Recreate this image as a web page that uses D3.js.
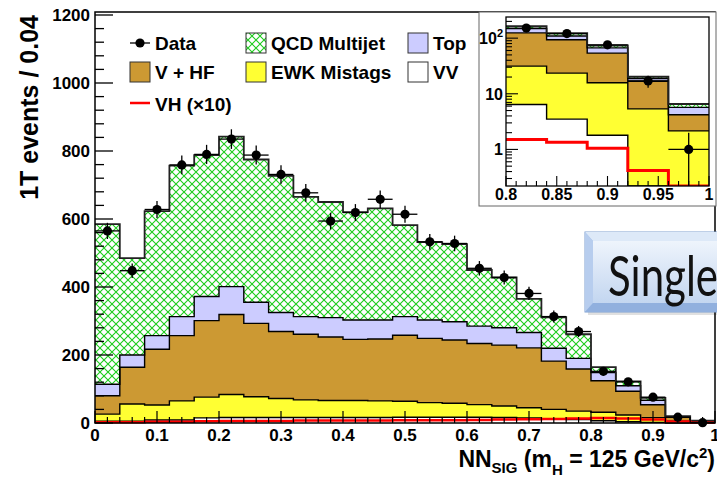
<!DOCTYPE html>
<html>
<head>
<meta charset="utf-8">
<script src="https://d3js.org/d3.v7.min.js"></script>
<style>
  body { margin: 0; background: #fff; }
  svg { display: block; font-family: "Liberation Sans", Arial, sans-serif; }
</style>
</head>
<body>
<script>
// histogram bins (lower edges), width 0.04
var binLo = [0, 0.04, 0.08, 0.12, 0.16, 0.2, 0.24, 0.28, 0.32, 0.36, 0.4, 0.44, 0.48,
             0.52, 0.56, 0.6, 0.64, 0.68, 0.72, 0.76, 0.8, 0.84, 0.88, 0.92, 0.96]
var binW = 0.04

// background components (events per bin), stacked bottom -> top
var vv   = [5, 5, 9, 9, 15, 16, 16, 16, 16, 16, 16, 16, 17, 17, 17, 17, 16, 15, 13, 10, 6.4, 3.5, 1.8, 0.15, 0.05]
var ewk  = [21, 51, 44, 56, 61, 68, 61, 56, 52, 50, 50, 49, 47, 43, 41, 37, 34, 30, 27, 25, 25, 20, 14, 5.2, 2.1]
var vhf  = [54, 108, 164, 192, 225, 235, 216, 197, 193, 187, 180, 182, 194, 189, 186, 180, 179, 176, 142, 124, 93, 70, 38, 11.5, 2.05]
var topq = [34, 36, 40, 56, 71, 82, 62, 56, 52, 57, 57, 56, 55, 54, 54, 51, 51, 45, 38, 31, 24, 16, 13, 2, 1.5]
var qcd  = [471, 285, 366, 444, 416, 441, 420, 402, 352, 340, 317, 328, 269, 229, 228, 165, 148, 99, 91, 71, 16, 13, 7, 1.4, 0.85]
var vh10 = [2, 2, 4, 4, 5, 6, 6, 6, 7, 7, 7, 7, 8, 8, 8, 9, 10, 11, 12, 13, 15, 13.5, 10.5, 4.2, 1]
var data = [565, 448, 628, 759, 790, 835, 788, 731, 677, 594, 619, 658, 614, 533, 528, 455, 428, 381, 313, 269, 152, 121, 76, 17, 1]

// tick labels
var xTicks = [0, 0.1, 0.2, 0.3, 0.4, 0.5, 0.6, 0.7, 0.8, 0.9, 1]
var xTickText = ['0', '0.1', '0.2', '0.3', '0.4', '0.5', '0.6', '0.7', '0.8', '0.9', '1']
var yTicks = [0, 200, 400, 600, 800, 1000, 1200]
var insetXTicks = [0.8, 0.85, 0.9, 0.95, 1]
var insetXText = ['0.8', '0.85', '0.9', '0.95', '1']
var insetYTicks = [1, 10, 100]

var w = 717, h = 480
var svg = d3.select('body').append('svg').attr('width', w).attr('height', h)

var defs = svg.append('defs')
var pat = defs.append('pattern').attr('id', 'hatch')
    .attr('patternUnits', 'userSpaceOnUse').attr('width', 8).attr('height', 8)
pat.append('rect').attr('width', 8).attr('height', 8).attr('fill', 'white')
pat.append('path').attr('d', 'M-1,-1 L9,9 M9,-1 L-1,9')
    .attr('stroke', '#1ccc1c').attr('stroke-width', 1.1)

var layers = [
    { key: 'VV', vals: vv, fill: 'white' },
    { key: 'EWK Mistags', vals: ewk, fill: '#ffff33' },
    { key: 'V + HF', vals: vhf, fill: '#cc9933' },
    { key: 'Top', vals: topq, fill: '#ccccff' },
    { key: 'QCD Multijet', vals: qcd, fill: 'url(#hatch)' }
]
var rows = binLo.map(function (b, i) {
    var r = { lo: b, idx: i }
    layers.forEach(function (l) { r[l.key] = l.vals[i] })
    return r
})
var stacked = d3.stack().keys(layers.map(l => l.key))(rows)

// ---------------- main plot ----------------
var x = d3.scaleLinear().domain([0, 1]).range([95, 715])
var y = d3.scaleLinear().domain([0, 1200]).range([423, 15])

function drawStack(g, xs, ys, subset, clampLo, clampHi) {
    function cy(v) { return ys(Math.min(Math.max(v, clampLo), clampHi)) }
    stacked.forEach(function (s, li) {
        var pts = s.filter((d, i) => subset(i))
        g.selectAll(null).data(pts).enter().append('rect')
            .attr('x', d => xs(d.data.lo))
            .attr('width', d => xs(d.data.lo + binW) - xs(d.data.lo))
            .attr('y', d => cy(d[1]))
            .attr('height', d => Math.max(0, cy(d[0]) - cy(d[1])))
            .attr('fill', layers[li].fill)
            .attr('shape-rendering', 'crispEdges')
    })
    stacked.forEach(function (s, li) {
        var pts = s.filter((d, i) => subset(i))
        var line = []
        pts.forEach(function (d) {
            line.push([xs(d.data.lo), cy(d[1])])
            line.push([xs(d.data.lo + binW), cy(d[1])])
        })
        g.append('path').attr('d', d3.line()(line))
            .attr('fill', 'none')
            .attr('stroke', li == 4 ? '#222' : 'black')
            .attr('stroke-width', li == 4 ? 1.8 : 1.4)
    })
}

var mainG = svg.append('g')
drawStack(mainG, x, y, i => true, 0, 1209)

// VH x10 line
var vhLine = []
binLo.forEach(function (b, i) {
    vhLine.push([x(b), y(vh10[i])])
    vhLine.push([x(b + binW), y(vh10[i])])
})
mainG.append('path').attr('d', d3.line()(vhLine))
    .attr('fill', 'none').attr('stroke', '#ff0000').attr('stroke-width', 2.5)

// data points
function drawData(g, xs, ys, idx, lo, hi) {
    function cy(v) { return ys(Math.min(Math.max(v, lo), hi)) }
    idx.forEach(function (i) {
        var c = binLo[i] + binW / 2, n = data[i], e = Math.sqrt(n)
        g.append('line').attr('x1', xs(binLo[i])).attr('x2', xs(binLo[i] + binW))
            .attr('y1', cy(n)).attr('y2', cy(n)).attr('stroke', 'black').attr('stroke-width', 1.3)
        g.append('line').attr('x1', xs(c)).attr('x2', xs(c))
            .attr('y1', cy(n - e)).attr('y2', cy(n + e)).attr('stroke', 'black').attr('stroke-width', 1.3)
        g.append('circle').attr('cx', xs(c)).attr('cy', cy(n)).attr('r', 4.6).attr('fill', 'black')
    })
}
drawData(mainG, x, y, d3.range(binLo.length), 0, 1209)

// frame + ticks
var ax = svg.append('g')
ax.append('rect').attr('x', 95).attr('y', 12).attr('width', 620).attr('height', 411)
    .attr('fill', 'none').attr('stroke', 'black').attr('stroke-width', 1.5)
for (var v = 0; v <= 1200; v += 40) {
    var major = v % 200 == 0
    ax.append('line').attr('x1', 95).attr('x2', 95 + (major ? 18 : 9))
        .attr('y1', y(v)).attr('y2', y(v)).attr('stroke', 'black').attr('stroke-width', 1.3)
}
for (var k = 0; k <= 50; k++) {
    var xv = k * 0.02
    var maj = k % 5 == 0
    ax.append('line').attr('x1', x(xv)).attr('x2', x(xv))
        .attr('y1', 423).attr('y2', 423 - (maj ? 12 : 6)).attr('stroke', 'black').attr('stroke-width', 1.2)
}
ax.selectAll('.ylab').data(yTicks).enter().append('text')
    .attr('x', 90).attr('y', d => y(d)).attr('dy', '0.36em')
    .attr('text-anchor', 'end').attr('font-size', 17).attr('font-weight', 'bold')
    .text(d => d)
ax.selectAll('.xlab').data(xTicks).enter().append('text')
    .attr('x', d => x(d)).attr('y', 441)
    .attr('text-anchor', 'middle').attr('font-size', 17).attr('font-weight', 'bold')
    .text((d, i) => xTickText[i])

// axis titles
svg.append('text')
    .attr('transform', 'translate(38,15) rotate(-90)')
    .attr('text-anchor', 'end').attr('font-size', 25).attr('font-weight', 'bold')
    .text('1T events / 0.04')

var xt = svg.append('text').attr('x', 715).attr('y', 467)
    .attr('text-anchor', 'end').attr('font-size', 23).attr('font-weight', 'bold')
xt.append('tspan').text('NN')
xt.append('tspan').attr('font-size', 15).attr('dy', 6).text('SIG')
xt.append('tspan').attr('dy', -6).text(' (m')
xt.append('tspan').attr('font-size', 15).attr('dy', 8).text('H')
xt.append('tspan').attr('dy', -8).text(' = 125 GeV/c')
xt.append('tspan').attr('font-size', 15).attr('dy', -9).text('2')
xt.append('tspan').attr('dy', 9).text(')')

// ---------------- legend ----------------
var lg = svg.append('g').attr('font-size', 19).attr('font-weight', 'bold')
function legBox(x0, yc, fill, label) {
    lg.append('rect').attr('x', x0).attr('y', yc - 10).attr('width', 20).attr('height', 20)
        .attr('fill', fill).attr('stroke', '#333').attr('stroke-width', 1)
    lg.append('text').attr('x', x0 + 25).attr('y', yc + 7).text(label)
}
// Data entry
lg.append('line').attr('x1', 130).attr('x2', 150).attr('y1', 43).attr('y2', 43)
    .attr('stroke', 'black').attr('stroke-width', 1.3)
lg.append('circle').attr('cx', 140).attr('cy', 43).attr('r', 4.6).attr('fill', 'black')
lg.append('text').attr('x', 155).attr('y', 50).text('Data')
legBox(246, 43, 'url(#hatch)', 'QCD Multijet')
legBox(408, 43, '#ccccff', 'Top')
legBox(130, 72, '#cc9933', 'V + HF')
legBox(246, 72, '#ffff33', 'EWK Mistags')
legBox(408, 72, 'white', 'VV')
lg.append('line').attr('x1', 130).attr('x2', 150).attr('y1', 103).attr('y2', 103)
    .attr('stroke', '#ff0000').attr('stroke-width', 2.5)
lg.append('text').attr('x', 155).attr('y', 111).text('VH (\u00d710)')

// ---------------- "Single" box ----------------
var grad = defs.append('linearGradient').attr('id', 'face').attr('x1', 0).attr('y1', 0).attr('x2', 0).attr('y2', 1)
grad.append('stop').attr('offset', '0%').attr('stop-color', '#eef4fc')
grad.append('stop').attr('offset', '100%').attr('stop-color', '#c3d6f0')
var sb = svg.append('g')
sb.append('rect').attr('x', 588).attr('y', 235).attr('width', 140).attr('height', 80)
    .attr('fill', '#000').attr('opacity', 0.12)
sb.append('rect').attr('x', 585).attr('y', 232).attr('width', 140).attr('height', 80)
    .attr('fill', '#a8c2e8').attr('stroke', '#7f9fd0').attr('stroke-width', 1)
sb.append('path').attr('d', 'M585,232 L725,232 L725,241 L593,241 Z').attr('fill', '#dde9f8')
sb.append('path').attr('d', 'M585,232 L593,241 L593,303 L585,312 Z').attr('fill', '#b7cdee')
sb.append('path').attr('d', 'M585,312 L593,303 L725,303 L725,312 Z').attr('fill', '#91b0de')
sb.append('rect').attr('x', 593).attr('y', 241).attr('width', 132).attr('height', 62)
    .attr('fill', 'url(#face)')
sb.append('text').attr('x', 608).attr('y', 296)
    .attr('font-family', 'Lato, "Open Sans", sans-serif').attr('font-size', 56)
    .attr('textLength', 110).attr('lengthAdjust', 'spacingAndGlyphs')
    .attr('fill', '#111').text('Single')

// ---------------- inset (log scale) ----------------
var ins = svg.append('g')
ins.append('rect').attr('x', 479).attr('y', 12).attr('width', 237).attr('height', 194)
    .attr('fill', 'white').attr('stroke', '#666').attr('stroke-width', 1)
var xi = d3.scaleLinear().domain([0.8, 1]).range([506, 709])
var yi = d3.scaleLog().domain([0.22, 240]).range([186, 17])
defs.append('clipPath').attr('id', 'insclip').append('rect')
    .attr('x', 506).attr('y', 17).attr('width', 203).attr('height', 169)
var insG = ins.append('g').attr('clip-path', 'url(#insclip)')
drawStack(insG, xi, yi, i => i >= 20, 0.22, 240)
var vhIn = []
binLo.forEach(function (b, i) {
    if (i < 20) return
    var v = Math.max(vh10[i] / 10, 0.22)
    vhIn.push([xi(b), yi(v)])
    vhIn.push([xi(b + binW), yi(v)])
})
insG.append('path').attr('d', d3.line()(vhIn))
    .attr('fill', 'none').attr('stroke', '#ff0000').attr('stroke-width', 3)
drawData(insG, xi, yi, [20, 21, 22, 23, 24], 0.22, 240)

ins.append('rect').attr('x', 506).attr('y', 17).attr('width', 203).attr('height', 169)
    .attr('fill', 'none').attr('stroke', 'black').attr('stroke-width', 1.3)
for (var k2 = 0; k2 <= 20; k2++) {
    var xv2 = 0.8 + k2 * 0.01
    var mj = k2 % 5 == 0
    ins.append('line').attr('x1', xi(xv2)).attr('x2', xi(xv2))
        .attr('y1', 186).attr('y2', 186 - (mj ? 10 : 5)).attr('stroke', 'black').attr('stroke-width', 1.1)
}
;[1, 10, 100].forEach(function (dec) {
    for (var m = 1; m <= 9; m++) {
        var val = dec * m
        if (val > 240) continue
        ins.append('line').attr('x1', 506).attr('x2', 506 + (m == 1 ? 12 : 6))
            .attr('y1', yi(val)).attr('y2', yi(val)).attr('stroke', 'black').attr('stroke-width', 1.1)
    }
})
;[0.3, 0.4, 0.5, 0.6, 0.7, 0.8, 0.9].forEach(function (val) {
    ins.append('line').attr('x1', 506).attr('x2', 512)
        .attr('y1', yi(val)).attr('y2', yi(val)).attr('stroke', 'black').attr('stroke-width', 1.1)
})
ins.selectAll('.ixl').data(insetXTicks).enter().append('text')
    .attr('x', d => xi(d)).attr('y', 200)
    .attr('text-anchor', 'middle').attr('font-size', 16).attr('font-weight', 'bold')
    .text((d, i) => insetXText[i])
insetYTicks.forEach(function (d) {
    var t = ins.append('text').attr('x', 503).attr('y', yi(d)).attr('dy', '0.36em')
        .attr('text-anchor', 'end').attr('font-size', 16).attr('font-weight', 'bold')
    if (d == 100) {
        t.append('tspan').text('10')
        t.append('tspan').attr('font-size', 11).attr('dy', -7).text('2')
    } else {
        t.text(d)
    }
})
</script>
</body>
</html>
